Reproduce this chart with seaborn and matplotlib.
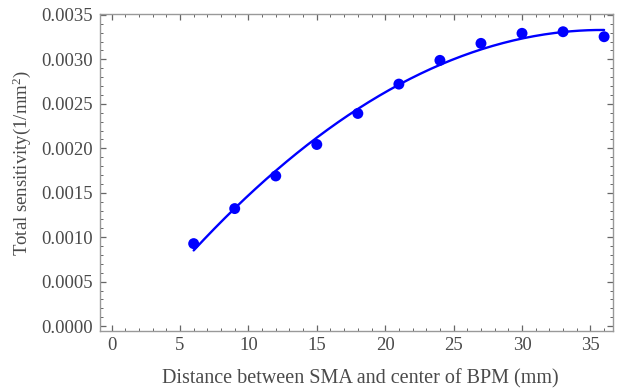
import numpy as np
import pandas as pd
import matplotlib
matplotlib.use("Agg")
import matplotlib.pyplot as plt
import seaborn as sns
from matplotlib.ticker import MultipleLocator, FormatStrFormatter

# Data
distance_mm = [6, 9, 12, 15, 18, 21, 24, 27, 30, 33, 36]
sensitivity = [0.000928, 0.001322, 0.001689, 0.002043, 0.002392, 0.002722,
               0.002989, 0.003180, 0.003293, 0.003311, 0.003255]

df = pd.DataFrame({"x": distance_mm, "y": sensitivity})

# Polynomial fit curve (as in the reference)
coef = np.polyfit(df["x"], df["y"], 2)
xf = np.linspace(min(distance_mm), max(distance_mm), 200)
fit = pd.DataFrame({"x": xf, "y": np.polyval(coef, xf)})

sns.set_style("white")
plt.rcParams["font.family"] = ["Liberation Serif", "DejaVu Serif"]
plt.rcParams["mathtext.fontset"] = "custom"
plt.rcParams["mathtext.rm"] = "Liberation Serif"
plt.rcParams["mathtext.default"] = "regular"

fig = plt.figure(figsize=(6.17, 3.9), dpi=100)
ax = fig.add_axes([0.162, 0.151, 0.8315, 0.813])

blue = "#0000FF"
sns.lineplot(data=fit, x="x", y="y", ax=ax, color=blue, linewidth=1.7)
sns.scatterplot(data=df, x="x", y="y", ax=ax, color=blue, s=62, edgecolor="none", zorder=3)

ax.set_xlim(-0.85, 36.65)
ax.set_ylim(-0.000056, 0.00351)
ax.xaxis.set_major_locator(MultipleLocator(5))
ax.xaxis.set_minor_locator(MultipleLocator(1))
ax.yaxis.set_major_locator(MultipleLocator(0.0005))
ax.yaxis.set_minor_locator(MultipleLocator(0.0001))
ax.yaxis.set_major_formatter(FormatStrFormatter("%.4f"))

for sp in ax.spines.values():
    sp.set_color("#999999")
    sp.set_linewidth(1.0)
ax.tick_params(which="both", direction="in", top=True, right=True,
               bottom=True, left=True, colors="#666666", labelcolor="#4a4a4a",
               labelsize=13.5)
ax.tick_params(axis="y", which="major", pad=5)
ax.tick_params(axis="x", which="major", pad=4)
ax.tick_params(which="major", length=4, width=0.9)
ax.tick_params(which="minor", length=2, width=0.7)

ax.set_xlabel("Distance between SMA and center of BPM (mm)", fontsize=14.5, color="#4a4a4a")
ax.set_ylabel("Total sensitivity(1/mm$^{2}$)", fontsize=13.5, color="#4a4a4a")
ax.xaxis.set_label_coords(0.507, -0.12)
ax.yaxis.set_label_coords(-0.131, 0.53)

fig.savefig("out.png", dpi=100)
